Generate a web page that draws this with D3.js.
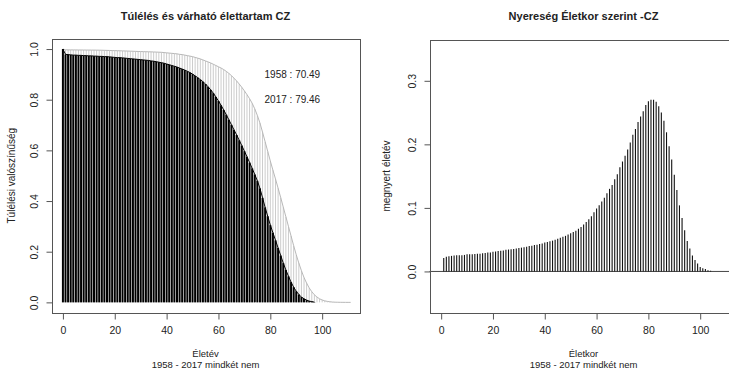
<!DOCTYPE html>
<html>
<head>
<meta charset="utf-8">
<script src="https://cdn.jsdelivr.net/npm/d3@7"></script>
<style>
  body { margin: 0; background: white; }
  text { font-family: "Liberation Sans", Arial, sans-serif; fill: #222; }
</style>
</head>
<body>
<div id="chart"></div>
<script>
// Survival probability by age (age = index), 1958 and 2017
var surv1958 = [
  1.000, 0.979, 0.978, 0.977, 0.976, 0.976, 0.975, 0.975, 0.974, 0.974,
  0.973, 0.973, 0.972, 0.972, 0.971, 0.971, 0.970, 0.970, 0.969, 0.968,
  0.967, 0.966, 0.966, 0.965, 0.964, 0.963, 0.962, 0.961, 0.960, 0.959,
  0.958, 0.957, 0.956, 0.955, 0.953, 0.952, 0.950, 0.948, 0.946, 0.944,
  0.941, 0.938, 0.935, 0.932, 0.929, 0.925, 0.921, 0.917, 0.912, 0.907,
  0.901, 0.894, 0.887, 0.879, 0.871, 0.862, 0.851, 0.839, 0.826, 0.811,
  0.795, 0.778, 0.760, 0.741, 0.721, 0.701, 0.681, 0.661, 0.640, 0.619,
  0.597, 0.575, 0.552, 0.529, 0.505, 0.480, 0.450, 0.413, 0.375, 0.340,
  0.305, 0.275, 0.245, 0.215, 0.185, 0.155, 0.128, 0.103, 0.080, 0.060,
  0.044, 0.031, 0.021, 0.014, 0.009, 0.005, 0.003, 0.001
]

var surv2017 = [
  1.000, 0.997, 0.9968, 0.9966, 0.9965, 0.9964, 0.9963, 0.9962, 0.9961, 0.9960,
  0.9959, 0.9958, 0.9957, 0.9956, 0.9954, 0.9952, 0.9949, 0.9946, 0.9943, 0.9940,
  0.9937, 0.9934, 0.9931, 0.9927, 0.9924, 0.9920, 0.9916, 0.9912, 0.9908, 0.9903,
  0.990, 0.9897, 0.9894, 0.9891, 0.9888, 0.9884, 0.988, 0.9875, 0.987, 0.986,
  0.985, 0.984, 0.983, 0.982, 0.981, 0.979, 0.978, 0.976, 0.974, 0.972,
  0.970, 0.967, 0.964, 0.961, 0.957, 0.953, 0.949, 0.945, 0.940, 0.935,
  0.930, 0.925, 0.919, 0.912, 0.904, 0.895, 0.885, 0.874, 0.862, 0.849,
  0.835, 0.820, 0.804, 0.786, 0.764, 0.738, 0.708, 0.672, 0.634, 0.596,
  0.558, 0.522, 0.487, 0.451, 0.414, 0.376, 0.338, 0.300, 0.262, 0.224,
  0.188, 0.155, 0.125, 0.098, 0.076, 0.057, 0.042, 0.030, 0.021, 0.014,
  0.0095, 0.006, 0.0038, 0.0023, 0.0013, 0.0007, 0.0004, 0.0002, 0.0001, 0,
  0, 0
]

// Gained life years by age, starting at age 1
var gainStartAge = 1
var gain = [
  0.021, 0.023, 0.024, 0.0245, 0.025, 0.0255, 0.0255, 0.0256, 0.026, 0.027,
  0.027, 0.027, 0.0273, 0.0277, 0.028, 0.0285, 0.029, 0.0297, 0.030, 0.031,
  0.0315, 0.032, 0.0326, 0.033, 0.034, 0.0345, 0.035, 0.0355, 0.036, 0.037,
  0.0375, 0.038, 0.039, 0.040, 0.0405, 0.0415, 0.042, 0.043, 0.044, 0.0455,
  0.0465, 0.0475, 0.0485, 0.050, 0.0515, 0.053, 0.0545, 0.056, 0.058, 0.060,
  0.062, 0.064, 0.067, 0.070, 0.074, 0.078, 0.082, 0.087, 0.093, 0.099,
  0.104, 0.110, 0.116, 0.123, 0.130, 0.136, 0.145, 0.153, 0.164, 0.173,
  0.182, 0.192, 0.203, 0.215, 0.224, 0.235, 0.244, 0.252, 0.262, 0.268,
  0.270, 0.270, 0.267, 0.260, 0.250, 0.237, 0.219, 0.197, 0.176, 0.152,
  0.128, 0.104, 0.084, 0.065, 0.048, 0.036, 0.025, 0.018, 0.0126, 0.007,
  0.005, 0.004, 0.002, 0.001
]

var xTicks = [0, 20, 40, 60, 80, 100]
var yTicksLeft = [0, 0.2, 0.4, 0.6, 0.8, 1.0]
var yTicksRight = [0, 0.1, 0.2, 0.3]
var legendText = ["1958 : 70.49", "2017 : 79.46"]

var width = 729, height = 368

var svg = d3.select("#chart")
  .append("svg")
  .attr("width", width)
  .attr("height", height)

// Left panel scales
var xL = d3.scaleLinear().domain([-4.4, 114.4]).range([51.5, 359.5])
var yL = d3.scaleLinear().domain([-0.04, 1.04]).range([312.5, 38.9])

// Right panel scales
var xR = d3.scaleLinear().domain([-4.5, 114.4]).range([429.5, 737.5])
var yR = d3.scaleLinear().domain([-0.0646, 0.365]).range([312.5, 39.5])

// 2017 survival as thin grey spikes
var leftG = svg.append("g")

leftG.selectAll(".s2017")
  .data(surv2017)
  .enter()
  .append("line")
  .attr("x1", (d, i) => xL(i))
  .attr("x2", (d, i) => xL(i))
  .attr("y1", yL(0))
  .attr("y2", d => yL(d))
  .style("stroke", "#cccccc")
  .style("stroke-width", 1)

leftG.append("path")
  .datum(surv2017)
  .attr("d", d3.line().x((d, i) => xL(i)).y(d => yL(d)))
  .style("fill", "none")
  .style("stroke", "#b8b8b8")
  .style("stroke-width", 1)

// 1958 survival as heavy black spikes
leftG.selectAll(".s1958")
  .data(surv1958)
  .enter()
  .append("line")
  .attr("x1", (d, i) => xL(i))
  .attr("x2", (d, i) => xL(i))
  .attr("y1", yL(0))
  .attr("y2", d => yL(d))
  .style("stroke", "black")
  .style("stroke-width", 2)

leftG.append("path")
  .datum(surv1958)
  .attr("d", d3.line().x((d, i) => xL(i)).y(d => yL(d)))
  .style("fill", "none")
  .style("stroke", "black")
  .style("stroke-width", 1)

// Legend text
leftG.selectAll(".legend")
  .data(legendText)
  .enter()
  .append("text")
  .attr("x", xL(88.5))
  .attr("y", (d, i) => yL(0.9 - i * 0.1) + 3.5)
  .attr("text-anchor", "middle")
  .style("font-size", "10px")
  .text(d => d)

// Right panel spikes
var rightG = svg.append("g")

rightG.append("line")
  .attr("x1", xR.range()[0])
  .attr("x2", xR.range()[1])
  .attr("y1", yR(0))
  .attr("y2", yR(0))
  .style("stroke", "#444")
  .style("stroke-width", 1)

rightG.selectAll(".gain")
  .data(gain)
  .enter()
  .append("line")
  .attr("x1", (d, i) => xR(i + gainStartAge))
  .attr("x2", (d, i) => xR(i + gainStartAge))
  .attr("y1", yR(0))
  .attr("y2", d => yR(d))
  .style("stroke", "#111")
  .style("stroke-width", 1.1)

// Boxes and axes
function drawFrame(xs, ys, yTicks, yFormat) {
  var g = svg.append("g")
  var x0 = Math.round(xs.range()[0]) + 0.5, x1 = Math.round(xs.range()[1]) + 0.5
  var y0 = Math.round(ys.range()[0]) + 0.5, y1 = Math.round(ys.range()[1]) + 0.5
  g.append("rect")
    .attr("x", x0)
    .attr("y", y1)
    .attr("width", x1 - x0)
    .attr("height", y0 - y1)
    .style("fill", "none")
    .style("stroke", "#555")
    .style("stroke-width", 1)

  // Render X axis
  g.append("g")
    .attr("transform", `translate(0,${y0})`)
    .call(d3.axisBottom(xs).tickValues(xTicks).tickSize(6).tickPadding(7).tickFormat(d => d))
    .call(a => a.select(".domain").remove())
    .call(a => a.selectAll("line").style("stroke", "#555"))
    .selectAll("text")
    .style("font-size", "10.5px")
    .style("font-family", "'Liberation Sans', Arial, sans-serif")
    .attr("fill", "#222")

  // Render Y axis
  g.append("g")
    .attr("transform", `translate(${x0},0)`)
    .call(d3.axisLeft(ys).tickValues(yTicks).tickSize(6).tickFormat(yFormat))
    .call(a => a.select(".domain").remove())
    .call(a => a.selectAll("line").style("stroke", "#555"))
    .selectAll("text")
    .style("font-size", "10.5px")
    .style("font-family", "'Liberation Sans', Arial, sans-serif")
    .attr("fill", "#222")
    .attr("x", 0)
    .attr("dy", 0)
    .attr("transform", "translate(-15,0) rotate(-90)")
    .style("text-anchor", "middle")
}

drawFrame(xL, yL, yTicksLeft, d3.format(".1f"))
drawFrame(xR, yR, yTicksRight, d3.format(".1f"))

// Titles
svg.append("text")
  .attr("x", (xL.range()[0] + xL.range()[1]) / 2)
  .attr("y", 20)
  .attr("text-anchor", "middle")
  .style("font-size", "11px")
  .style("font-weight", "bold")
  .text("Túlélés és várható élettartam CZ")

svg.append("text")
  .attr("x", (xR.range()[0] + xR.range()[1]) / 2)
  .attr("y", 20)
  .attr("text-anchor", "middle")
  .style("font-size", "11px")
  .style("font-weight", "bold")
  .text("Nyereség Életkor szerint -CZ")

// Axis titles
var xTitles = [
  { x: (xL.range()[0] + xL.range()[1]) / 2, label: "Életév" },
  { x: (xR.range()[0] + xR.range()[1]) / 2, label: "Életkor" }
]
xTitles.forEach(t => {
  svg.append("text")
    .attr("x", t.x)
    .attr("y", 357)
    .attr("text-anchor", "middle")
    .style("font-size", "9.5px")
    .text(t.label)
  svg.append("text")
    .attr("x", t.x)
    .attr("y", 367.5)
    .attr("text-anchor", "middle")
    .style("font-size", "9.5px")
    .text("1958 - 2017 mindkét nem")
})

svg.append("text")
  .attr("transform", `translate(15,${(yL.range()[0] + yL.range()[1]) / 2}) rotate(-90)`)
  .attr("text-anchor", "middle")
  .style("font-size", "10px")
  .text("Túlélési valószínűség")

svg.append("text")
  .attr("transform", `translate(390,${(yR.range()[0] + yR.range()[1]) / 2}) rotate(-90)`)
  .attr("text-anchor", "middle")
  .style("font-size", "10px")
  .text("megnyert életév")
</script>
</body>
</html>
